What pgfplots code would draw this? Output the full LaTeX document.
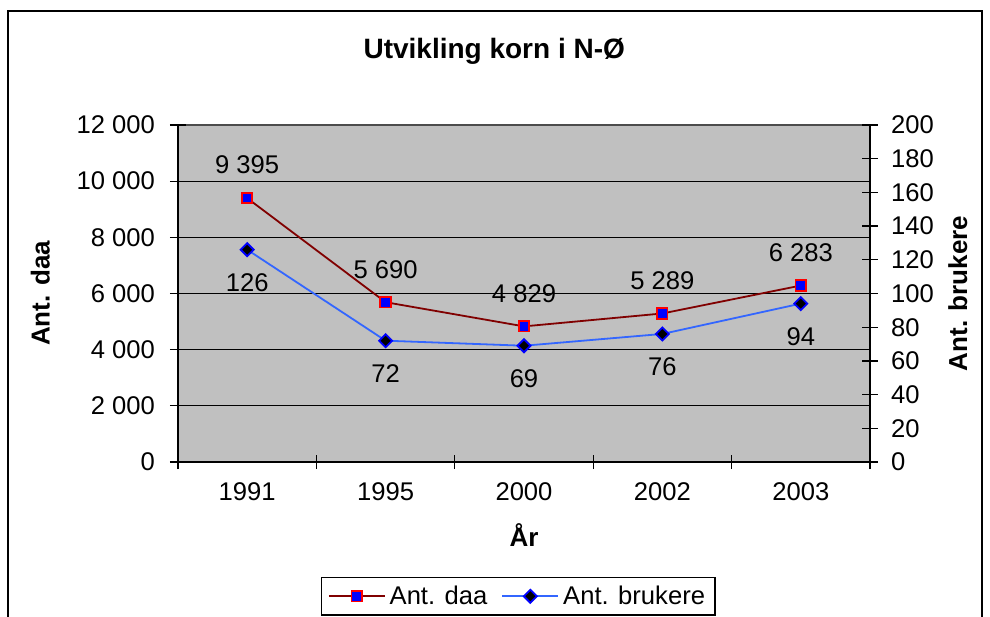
\documentclass[border=0pt]{standalone}
\usepackage{fontspec}
\setmainfont{Liberation Sans}
\usepackage{pgfplots}
\pgfplotsset{compat=1.18}
\definecolor{plotbg}{HTML}{C0C0C0}
\definecolor{daaline}{HTML}{800000}
\definecolor{brukline}{HTML}{3366FF}
\pgfplotsset{
  common/.style={
    scale only axis, width=346pt, height=168.5pt,
    at={(89pt,77pt)}, anchor=south west,
    xmin=-0.5, xmax=4.5,
    tick align=center, major tick length=8pt, minor tick length=7pt,
    tick style={black, line width=0.6pt},
    scaled y ticks=false,
    /pgf/number format/assume math mode=true,
    /pgf/number format/1000 sep={\ },
    ticklabel style={font=\fontsize{12.8}{15}\selectfont},
    label style={font=\bfseries\fontsize{13}{15}\selectfont},
    every non boxed x axis/.append style={x axis line style={-}},
    every non boxed y axis/.append style={y axis line style={-}},
    axis line style={black, line width=0.8pt},
  },
  daastyle/.style={color=daaline, line width=0.9pt, mark=square*, mark size=2.6pt,
    mark options={fill=blue, draw=red, line width=0.9pt, solid}},
  brukstyle/.style={color=brukline, line width=0.9pt, mark=square*, mark size=2.3pt,
    mark options={fill=black, draw=blue, line width=0.9pt, solid, rotate=45}},
  lblstyle/.style={every node near coord/.append style={anchor=center, text=black,
    font=\fontsize{12.8}{15}\selectfont, yshift=#1}},
}
\begin{document}
\begin{tikzpicture}
\useasboundingbox (0,0) rectangle (495pt,308pt);
\clip (0,0) rectangle (495pt,308pt);
\draw[line width=1.2pt] (4pt,-20pt) -- (4pt,302.5pt) -- (491pt,302.5pt) -- (491pt,-20pt);

\begin{axis}[common,
  axis background/.style={fill=plotbg},
  axis x line*=bottom, axis y line*=left,
  xtick={0,...,4}, xticklabels={1991,1995,2000,2002,2003},
  xticklabel style={yshift=-3pt},
  yticklabel style={xshift=-4pt},
  major x tick style={draw=none},
  minor xtick={-0.5,0.5,...,4.5},
  ymin=0, ymax=12000, ytick={0,2000,...,10000},
  extra y ticks={12000},
  extra y tick style={major grid style={gray!60!black, line width=0.6pt}},
  ymajorgrids, major grid style={black, line width=0.6pt},
  xlabel={År}, ylabel={Ant. daa},
  xlabel style={at={(axis description cs:0.5,-0.217)}, anchor=center},
  ylabel style={at={(axis description cs:-0.199,0.5)}, anchor=center},
  title={Utvikling korn i N-Ø},
  title style={at={(axis description cs:0.457,1.184)}, anchor=center,
    font=\bfseries\fontsize{14}{16}\selectfont},
]
\addplot[daastyle, lblstyle=16.5pt, point meta=y,
  nodes near coords={\pgfmathprintnumber[fixed,precision=0,1000 sep={\ }]{\pgfplotspointmeta}}]
  coordinates {(0,9395) (1,5690) (2,4829) (3,5289) (4,6283)};
\end{axis}

\begin{axis}[common,
  axis x line=none, axis y line*=right,
  ymin=0, ymax=200, ytick={0,20,...,200},
  yticklabel style={xshift=3pt},
  ylabel={Ant. brukere},
  ylabel style={at={(axis description cs:1.127,0.5)}, anchor=center},
  legend columns=2,
  legend image code/.code={\draw[mark repeat=2,mark phase=2]
    plot coordinates {(0pt,0pt) (14pt,0pt) (28pt,0pt)};},
  legend style={at={(axis description cs:0.492,-0.341)}, anchor=north,
    draw=black, line width=0.6pt, fill=white,
    font=\fontsize{12.8}{15}\selectfont,
    /tikz/every even column/.append style={column sep=5pt}},
]
\addlegendimage{daastyle}
\addlegendentry{Ant. daa}
\addplot[brukstyle, lblstyle=-16.5pt, point meta=y,
  nodes near coords={\pgfmathprintnumber[fixed,precision=0]{\pgfplotspointmeta}}]
  coordinates {(0,126) (1,72) (2,69) (3,76) (4,94)};
\addlegendentry{Ant. brukere}
\end{axis}
\end{tikzpicture}
\end{document}
